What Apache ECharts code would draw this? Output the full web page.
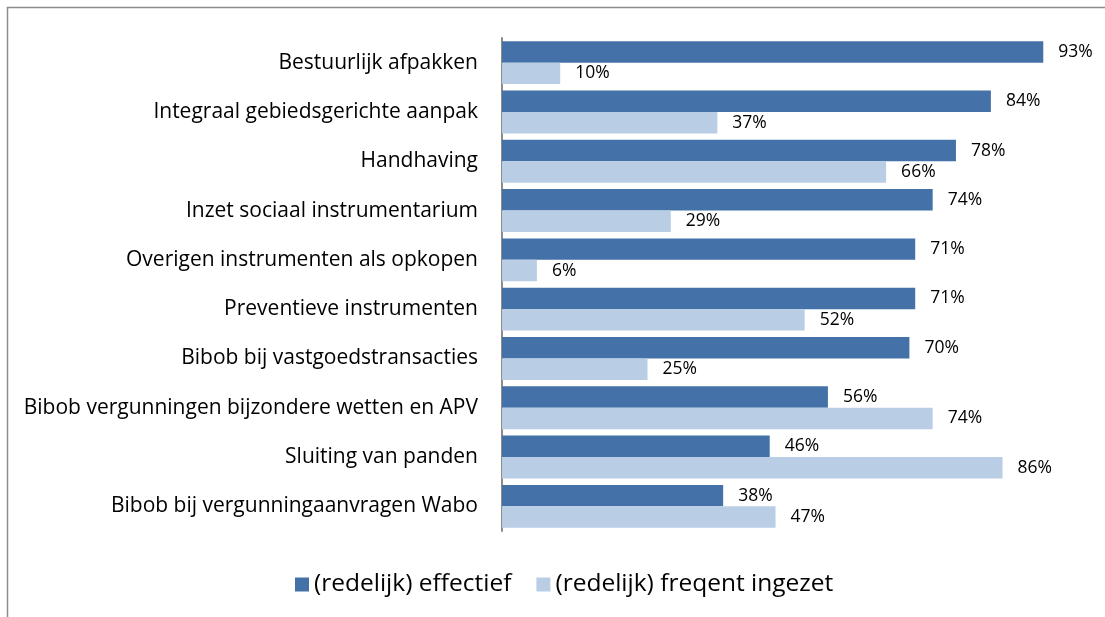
<!DOCTYPE html>
<html><head><meta charset="utf-8">
<script src="https://cdn.jsdelivr.net/npm/echarts@6/dist/echarts.min.js"></script>
<style>html,body{margin:0;padding:0;background:#fff}#c{width:1105px;height:617px}</style>
</head><body><div id="c"></div>
<script>
const categories = ["Bestuurlijk afpakken","Integraal gebiedsgerichte aanpak","Handhaving","Inzet sociaal instrumentarium","Overigen instrumenten als opkopen","Preventieve instrumenten","Bibob bij vastgoedstransacties","Bibob vergunningen bijzondere wetten en APV","Sluiting van panden","Bibob bij vergunningaanvragen Wabo"];
const effectief = [93,84,78,74,71,71,70,56,46,38];
const frequent = [10,37,66,29,6,52,25,74,86,47];
const seriesNames = ["(redelijk) effectief","(redelijk) freqent ingezet"];
const FONT = "Open Sans";
const chart = echarts.init(document.getElementById('c'));
const lbl = {show:true, position:'right', distance:15, formatter:'{c}%', color:'#000', fontFamily:FONT, fontSize:17.5};
chart.setOption({
  animation:false,
  graphic:[{type:'rect', shape:{x:7.5,y:7.5,width:1200,height:700}, style:{fill:'none', stroke:'#8c8c8c', lineWidth:1.5}}],
  legend:{top:567, left:290, itemWidth:14, itemHeight:14, itemGap:25, icon:'rect',
    textStyle:{fontFamily:FONT, fontSize:24.5, color:'#000'}, data:seriesNames},
  grid:{left:502, right:21, top:38, bottom:86, containLabel:false},
  xAxis:{type:'value', min:0, max:100, show:false},
  yAxis:{type:'category', data:categories, inverse:true,
    axisLine:{show:true, lineStyle:{color:'#8c8c8c', width:2}},
    axisTick:{show:false},
    axisLabel:{margin:24, color:'#000', fontFamily:FONT, fontSize:21}},
  series:[
    {name:seriesNames[0], type:'bar', data:effectief, barGap:'0%', barCategoryGap:'13%', itemStyle:{color:'#4472a8'}, label:lbl},
    {name:seriesNames[1], type:'bar', data:frequent, barGap:'0%', barCategoryGap:'13%', itemStyle:{color:'#b9cde5'}, label:lbl}
  ]
});
</script></body></html>
